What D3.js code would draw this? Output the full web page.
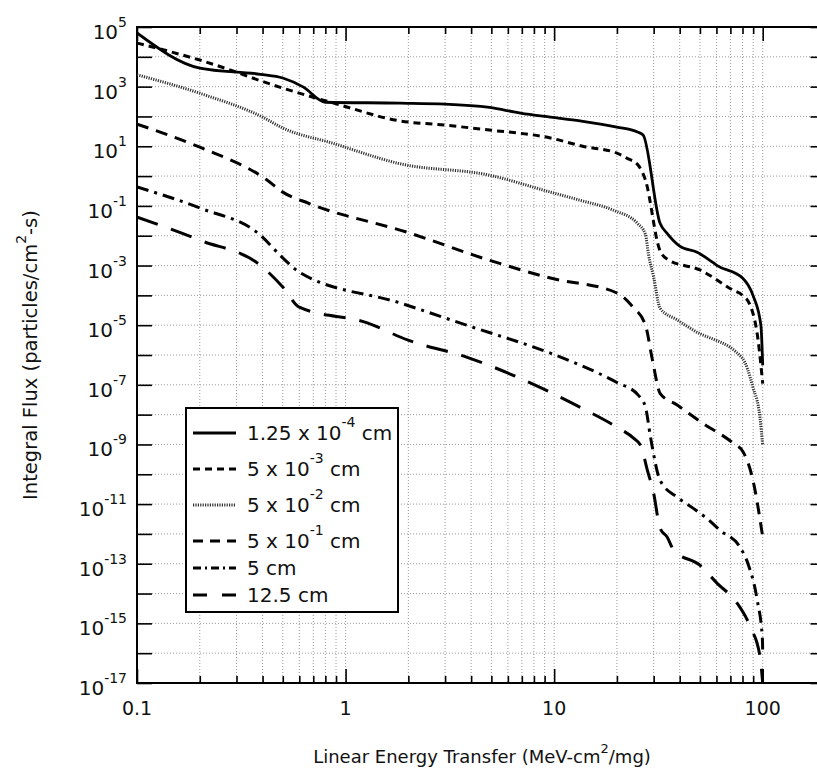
<!DOCTYPE html>
<html><head><meta charset="utf-8">
<script src="https://cdn.jsdelivr.net/npm/d3@7/dist/d3.min.js"></script>
<style>body{margin:0;background:#fff}svg{display:block}</style>
</head><body>
<svg id="c" width="817" height="769"></svg>
<script>
// ---- data (LET in MeV-cm2/mg, integral flux in particles/cm2-s) ----
const let1  = [0.1, 0.2, 0.39, 0.5, 0.625, 0.8, 1.82, 3.0, 4.9, 6.9, 9.6, 13.3, 20, 25.1, 26.7, 32.2, 34.8, 40, 48.5, 55.8, 60.5, 80, 89.8, 98, 100];
const flux1 = [6.3e4, 4.2e3, 2.6e3, 1.95e3, 9.8e2, 3.0e2, 2.8e2, 2.6e2, 2.0e2, 1.3e2, 95, 71, 44, 30, 24, 2.6e-2, 1.2e-2, 4.5e-3, 2.8e-3, 1.5e-3, 1.0e-3, 3.8e-4, 1.0e-4, 1.0e-5, 4.5e-7];

const let2  = [0.1, 0.2, 0.5, 0.91, 1.82, 3.0, 4.9, 9.6, 13.7, 20, 22.3, 25.3, 27.4, 32, 35, 50, 72, 80, 87, 95, 100];
const flux2 = [2.9e4, 7.8e3, 8.9e2, 2.6e2, 71, 51, 35, 19, 10, 5.9, 4.0, 2.3, 0.74, 3.5e-3, 1.6e-3, 7.1e-4, 1.5e-4, 1.0e-4, 4.7e-5, 3.2e-6, 1.1e-7];

const let3  = [0.1, 0.2, 0.4, 0.5, 0.87, 1.82, 4.9, 9.6, 13.3, 19.2, 25.1, 27.4, 28.3, 30, 32.2, 38.9, 46.5, 79.8, 89.8, 97, 100];
const flux3 = [2.5e3, 6.0e2, 95, 41, 12.6, 2.6, 1.07, 0.29, 0.155, 7.2e-2, 2.6e-2, 1.1e-2, 2.5e-3, 4.1e-4, 3.7e-5, 1.5e-5, 6.8e-6, 7.9e-7, 8.3e-8, 8.1e-9, 9.3e-10];

const let4  = [0.1, 0.2, 0.42, 0.5, 0.67, 1.98, 4.9, 9.6, 20, 23.9, 27.4, 29.6, 32.2, 38.9, 51.7, 72.2, 80.7, 89.8, 100];
const flux4 = [55, 9.3, 0.74, 0.29, 0.12, 1.3e-2, 1.5e-3, 3.8e-4, 1.2e-4, 4.0e-5, 1.0e-5, 6.8e-7, 5.2e-8, 2.1e-8, 5.1e-9, 1.1e-9, 5.5e-10, 6.3e-11, 7.9e-13];

const let5  = [0.1, 0.2, 0.39, 0.5, 0.6, 1.82, 3.8, 9.6, 13.3, 20, 25.3, 27.4, 29.0, 32.2, 38.9, 46.5, 54, 62.6, 78, 85, 94, 99.6, 100];
const flux5 = [0.43, 8.5e-2, 1.05e-2, 1.8e-3, 6.0e-4, 5.6e-5, 1.0e-5, 1.15e-6, 4.6e-7, 1.2e-7, 4.5e-8, 1.8e-8, 1.7e-9, 6.3e-11, 1.7e-11, 7.2e-12, 3.3e-12, 1.3e-12, 3.5e-13, 1.0e-13, 6.3e-15, 3.2e-16, 1.0e-16];

const let6  = [0.1, 0.2, 0.4, 0.5, 0.6, 1.27, 1.98, 3.8, 9.6, 13.7, 20, 24.1, 26.0, 28.0, 30.0, 32.2, 34.8, 37.5, 50, 60.5, 75, 87, 97, 100];
const flux6 = [4.2e-2, 7.1e-3, 8.9e-4, 1.9e-4, 4.0e-5, 1.2e-5, 3.2e-6, 8.5e-7, 5.6e-8, 1.6e-8, 3.8e-9, 1.6e-9, 9.3e-10, 1.35e-10, 2.3e-11, 1.55e-12, 7.9e-13, 2.8e-13, 8.9e-14, 2.2e-14, 5.0e-15, 7.9e-16, 7.9e-17, 1.0e-17];

const legendMain = ["1.25 x 10", "5 x 10", "5 x 10", "5 x 10", "5 cm", "12.5 cm"];
const legendExp  = ["-4", "-3", "-2", "-1", "", ""];
const legendTail = [" cm", " cm", " cm", " cm", "", ""];

const xTickLabels = ["0.1", "1", "10", "100"];
const xMajor = [0.1, 1, 10, 100];
const yExponents = [5, 3, 1, -1, -3, -5, -7, -9, -11, -13, -15, -17];

const xTitle = ["Linear Energy Transfer (MeV-cm", "2", "/mg)"];
const yTitle = ["Integral Flux (particles/cm", "2", "-s)"];

// ---- layout ----
const L = 137, R = 825.5, T = 27, B = 683;
const svg = d3.select("#c");
const FONT = "'DejaVu Sans', Verdana, sans-serif";

const x = d3.scaleLog().domain([0.1, 200]).range([L, R]);
const y = d3.scaleLog().domain([1e-17, 1e5]).range([B, T]);

const minorX = [];
[0.1, 1, 10, 100].forEach(d => { for (let k = 1; k <= 9; k++) { const v = +(d * k).toPrecision(3); if (v <= 200) minorX.push(v); } });
minorX.push(200);
const decadesY = d3.range(-17, 6).map(e => Math.pow(10, e));

// grid
const grid = svg.append("g");
grid.selectAll("line.v").data(minorX.filter(v => v > 0.1 && v < 200)).enter().append("line")
  .attr("x1", d => x(d)).attr("x2", d => x(d)).attr("y1", T).attr("y2", B)
  .attr("stroke", "#9a9a9a").attr("stroke-width", 1).attr("stroke-dasharray", "1,2");
grid.selectAll("line.h").data(decadesY.filter(v => v > 1e-17 && v < 1e5)).enter().append("line")
  .attr("x1", L).attr("x2", R).attr("y1", d => y(d)).attr("y2", d => y(d))
  .attr("stroke", "#9a9a9a").attr("stroke-width", 1).attr("stroke-dasharray", "1,2");

// axes ticks (inward)
function styleAxis(g) { g.select(".domain").remove(); g.selectAll("line").attr("stroke", "#000").attr("stroke-width", 1.6); }
const minorOnly = minorX.filter(v => xMajor.indexOf(v) < 0);
svg.append("g").attr("transform", `translate(0,${B})`).call(d3.axisBottom(x).tickValues(minorOnly).tickSize(-7).tickFormat("")).call(styleAxis);
svg.append("g").attr("transform", `translate(0,${B})`).call(d3.axisBottom(x).tickValues(xMajor).tickSize(-14).tickFormat("")).call(styleAxis);
svg.append("g").attr("transform", `translate(0,${T})`).call(d3.axisTop(x).tickValues(minorOnly).tickSize(-7).tickFormat("")).call(styleAxis);
svg.append("g").attr("transform", `translate(0,${T})`).call(d3.axisTop(x).tickValues(xMajor).tickSize(-14).tickFormat("")).call(styleAxis);
svg.append("g").attr("transform", `translate(${L},0)`).call(d3.axisLeft(y).tickValues(decadesY).tickSize(-15).tickFormat("")).call(styleAxis);
svg.append("g").attr("transform", `translate(${R},0)`).call(d3.axisRight(y).tickValues(decadesY).tickSize(-15).tickFormat("")).call(styleAxis);

// frame
svg.append("rect").attr("x", L).attr("y", T).attr("width", R - L).attr("height", B - T)
  .attr("fill", "none").attr("stroke", "#000").attr("stroke-width", 2);

// x tick labels
svg.selectAll("text.xl").data(xMajor).enter().append("text")
  .attr("x", d => x(d)).attr("y", B + 32).attr("text-anchor", "middle")
  .attr("font-family", FONT).attr("font-size", 19).attr("fill", "#111")
  .text((d, i) => xTickLabels[i]);

// y tick labels 10^n
yExponents.forEach(e => {
  const t = svg.append("text").attr("x", 127).attr("y", y(Math.pow(10, e)) + 12)
    .attr("text-anchor", "end").attr("font-family", FONT).attr("font-size", 20).attr("fill", "#111");
  t.append("tspan").text("10");
  t.append("tspan").attr("dy", -12).attr("font-size", 14).text(String(e));
});

// axis titles
const xt = svg.append("text").attr("x", 482).attr("y", 763).attr("text-anchor", "middle")
  .attr("font-family", FONT).attr("font-size", 18).attr("fill", "#111");
xt.append("tspan").text(xTitle[0]);
xt.append("tspan").attr("dy", -10).attr("font-size", 13).text(xTitle[1]);
xt.append("tspan").attr("dy", 10).text(xTitle[2]);

const yt = svg.append("text").attr("transform", `translate(37,${(T + B) / 2}) rotate(-90)`).attr("text-anchor", "middle")
  .attr("font-family", FONT).attr("font-size", 19.5).attr("fill", "#111");
yt.append("tspan").text(yTitle[0]);
yt.append("tspan").attr("dy", -11).attr("font-size", 14).text(yTitle[1]);
yt.append("tspan").attr("dy", 11).text(yTitle[2]);

// series
const series = [
  {xs: let1, ys: flux1, dash: null, w: 2.8, c: "#000"},
  {xs: let2, ys: flux2, dash: "7,5", w: 3, c: "#000"},
  {xs: let3, ys: flux3, dash: "1.2,1.2", w: 3, c: "#333"},
  {xs: let4, ys: flux4, dash: "12,8", w: 3, c: "#000"},
  {xs: let5, ys: flux5, dash: "12,6,3,6", w: 3, c: "#000"},
  {xs: let6, ys: flux6, dash: "22,14", w: 3, c: "#000"}
];
svg.append("clipPath").attr("id", "pc").append("rect").attr("x", L).attr("y", T - 2).attr("width", R - L).attr("height", B - T + 4);
const line = d3.line().x(d => x(d[0])).y(d => y(d[1])).curve(d3.curveMonotoneX);
const lines = svg.append("g").attr("clip-path", "url(#pc)");
series.forEach(s => {
  lines.append("path").datum(s.xs.map((v, i) => [v, s.ys[i]]))
    .attr("d", line).attr("fill", "none").attr("stroke", s.c).attr("stroke-width", s.w)
    .attr("stroke-dasharray", s.dash).attr("stroke-linejoin", "round");
});

// legend
const lg = svg.append("g");
lg.append("rect").attr("x", 186).attr("y", 408).attr("width", 212).attr("height", 204)
  .attr("fill", "#fff").attr("stroke", "#000").attr("stroke-width", 2);
const legY = [433, 469, 505, 541, 568, 595];
const legDash = [null, "7,5", "1.2,1.2", "10,7", "8,4,2,4", "14,15"];
legY.forEach((yy, i) => {
  lg.append("line").attr("x1", 193).attr("x2", 236).attr("y1", yy).attr("y2", yy)
    .attr("stroke", series[i].c).attr("stroke-width", series[i].w).attr("stroke-dasharray", legDash[i]);
  const t = lg.append("text").attr("x", 247).attr("y", yy + 7).attr("font-family", FONT).attr("font-size", 20).attr("fill", "#111");
  t.append("tspan").text(legendMain[i]);
  if (legendExp[i]) {
    t.append("tspan").attr("dy", -13).attr("font-size", 14).text(legendExp[i]);
    t.append("tspan").attr("dy", 13).text(legendTail[i]);
  }
});
</script>
</body></html>
